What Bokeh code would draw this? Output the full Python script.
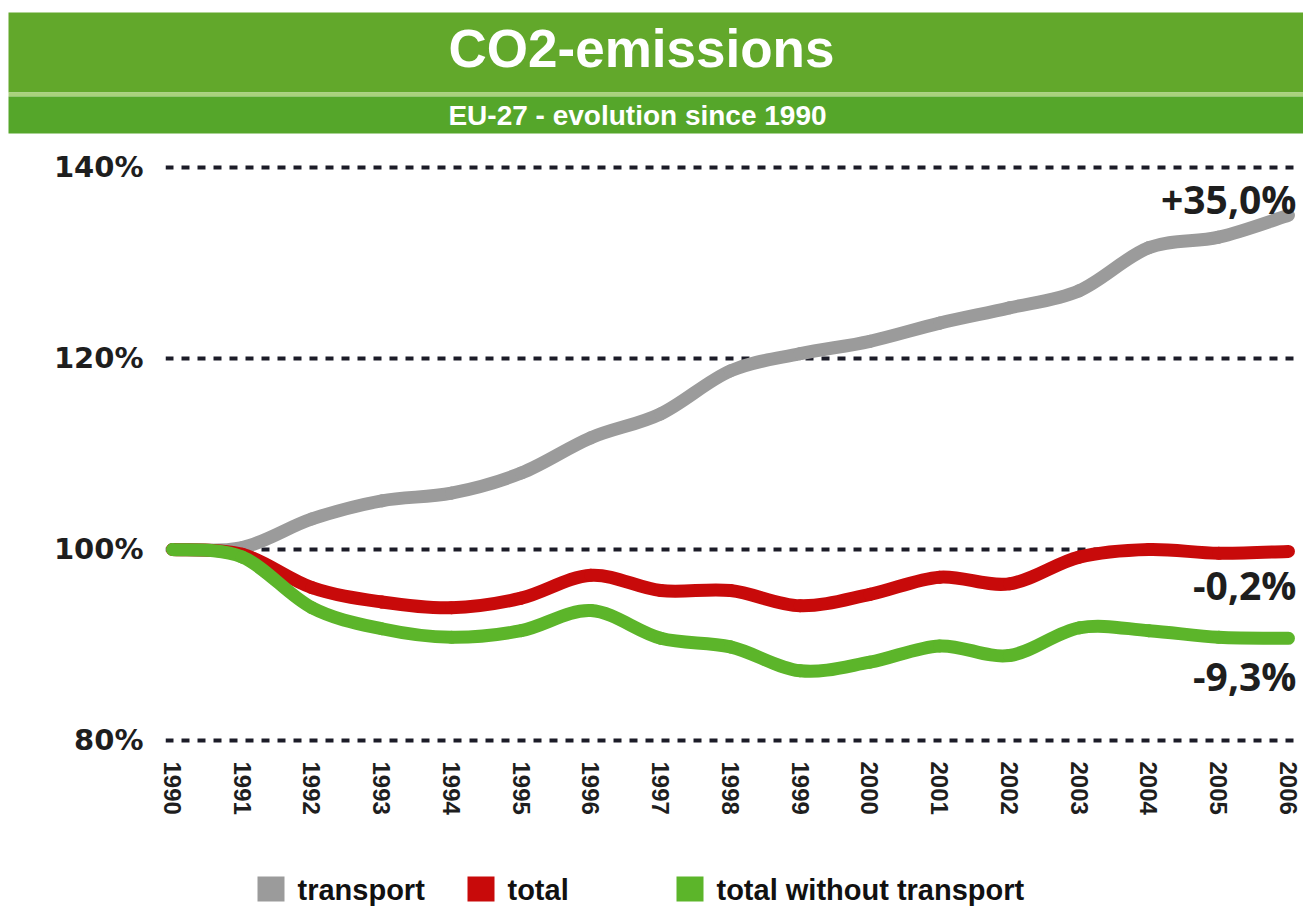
from bokeh.plotting import figure
from bokeh.models import Range1d, FixedTicker, PrintfTickFormatter, ColumnDataSource
from bokeh.layouts import column
from bokeh.embed import file_html
from bokeh.resources import INLINE
from bokeh.core.properties import value

# EU-27 CO2 emissions, index 1990 = 100 %
years = list(range(1990, 2007))
transport = [100.0, 100.2, 103.2, 105.1, 105.9, 108.0, 111.7, 114.2, 118.7,
             120.5, 121.8, 123.7, 125.3, 127.1, 131.6, 132.7, 135.0]
total = [100.0, 99.5, 96.0, 94.5, 93.9, 94.9, 97.3, 95.7, 95.7,
         94.1, 95.3, 97.1, 96.4, 99.2, 100.0, 99.6, 99.8]
total_without_transport = [100.0, 99.2, 93.9, 91.7, 90.8, 91.5, 93.6, 90.7, 89.8,
                           87.3, 88.2, 89.9, 88.9, 91.8, 91.5, 90.8, 90.7]

series_names = ["transport", "total", "total without transport"]
series_values = [transport, total, total_without_transport]
series_colors = ["#9b9b9b", "#c80a0a", "#5cb52a"]
y_ticks = [80, 100, 120, 140]

title_text = "CO2-emissions"
subtitle_text = "EU-27 - evolution since 1990"

W = 1303
BOLD_SANS = value("Liberation Sans")


def smooth_segments(xs, ys):
    """Cubic Bezier pieces (Catmull-Rom tangents) passing through every point."""
    n = len(xs)
    d = dict(x0=[], y0=[], x1=[], y1=[], cx0=[], cy0=[], cx1=[], cy1=[])
    for i in range(n - 1):
        ip, inn = max(i - 1, 0), min(i + 2, n - 1)
        d["x0"].append(xs[i]); d["y0"].append(ys[i])
        d["x1"].append(xs[i + 1]); d["y1"].append(ys[i + 1])
        d["cx0"].append(xs[i] + (xs[i + 1] - xs[ip]) / 6)
        d["cy0"].append(ys[i] + (ys[i + 1] - ys[ip]) / 6)
        d["cx1"].append(xs[i + 1] - (xs[inn] - xs[i]) / 6)
        d["cy1"].append(ys[i + 1] - (ys[inn] - ys[i]) / 6)
    return ColumnDataSource(d)


# ---------- header band ----------
head = figure(width=W, height=140, x_range=Range1d(0, W), y_range=Range1d(140, 0),
              output_backend="svg", toolbar_location=None, min_border=0,
              x_axis_location=None, y_axis_location=None, frame_align=False)
head.grid.visible = False
head.outline_line_color = None
head.quad(left=[8], right=[W], top=[12], bottom=[92], color="#62a82b", line_color=None)
head.quad(left=[8], right=[W], top=[92], bottom=[96], color="#a9d27c", line_color=None)
head.quad(left=[8], right=[W], top=[96], bottom=[133], color="#55a62a", line_color=None)
head.text(x=[641], y=[48], text=[title_text], text_font=BOLD_SANS, text_font_style="bold",
          text_font_size="53px", text_color="white", text_align="center",
          text_baseline="middle")
head.text(x=[637], y=[115], text=[subtitle_text], text_font=BOLD_SANS, text_font_style="bold",
          text_font_size="28px", text_color="white", text_align="center",
          text_baseline="middle")

# ---------- main chart ----------
p = figure(width=W, height=720,
           x_range=Range1d(1989.9, 2006.13), y_range=Range1d(79.16, 142.30),
           output_backend="svg", toolbar_location=None, frame_align=False,
           min_border_left=165, min_border_right=6, min_border_top=5, min_border_bottom=112)
p.outline_line_color = None
p.xgrid.visible = False
p.ygrid.grid_line_color = "#1c1c28"
p.ygrid.grid_line_width = 4
p.ygrid.grid_line_dash = "8 8"

p.yaxis.ticker = FixedTicker(ticks=y_ticks)
p.yaxis.formatter = PrintfTickFormatter(format="%d%%")
p.yaxis.axis_line_color = None
p.yaxis.major_tick_line_color = None
p.yaxis.minor_tick_line_color = None
p.yaxis.major_tick_out = 0
p.yaxis.major_label_standoff = 22
p.yaxis.major_label_text_font = "DejaVu Sans"
p.yaxis.major_label_text_font_style = "bold"
p.yaxis.major_label_text_font_size = "29px"
p.yaxis.major_label_text_color = "#1e1e1e"

p.xaxis.ticker = FixedTicker(ticks=years)
p.xaxis.major_label_orientation = "vertical"
p.xaxis.axis_line_color = None
p.xaxis.major_tick_line_color = None
p.xaxis.minor_tick_line_color = None
p.xaxis.major_tick_out = 0
p.xaxis.major_label_standoff = 13
p.xaxis.major_label_text_font = "Liberation Sans"
p.xaxis.major_label_text_font_style = "bold"
p.xaxis.major_label_text_font_size = "24px"
p.xaxis.major_label_text_color = "#1e1e1e"

for vals, color in zip(series_values, series_colors):
    p.bezier(x0="x0", y0="y0", x1="x1", y1="y1", cx0="cx0", cy0="cy0",
             cx1="cx1", cy1="cy1", source=smooth_segments(years, vals),
             line_width=13, line_color=color, line_cap="round")

# change since 1990 written next to the last point of each series
label_offsets = [-17, 33, 37]
for vals, dy in zip(series_values, label_offsets):
    change = vals[-1] - 100
    txt = f"{change:+.1f}%".replace(".", ",")
    p.text(x=[years[-1]], y=[vals[-1]], text=[txt], x_offset=8, y_offset=dy,
           text_font=value("Open Sans"), text_font_style="bold",
           text_font_size="39px", text_color="#1e1e1e",
           text_align="right", text_baseline="middle")

# ---------- legend row ----------
leg = figure(width=W, height=49, x_range=Range1d(0, W), y_range=Range1d(49, 0),
             output_backend="svg", toolbar_location=None, min_border=0,
             x_axis_location=None, y_axis_location=None, frame_align=False)
leg.grid.visible = False
leg.outline_line_color = None
key_left = [257, 467, 676]
for name, color, x0 in zip(series_names, series_colors, key_left):
    leg.quad(left=[x0], right=[x0 + 27], top=[16], bottom=[41], color=color, line_color=None)
    leg.text(x=[x0 + 40], y=[29], text=[name], text_font=BOLD_SANS, text_font_style="bold",
             text_font_size="29px", text_color="#111111", text_align="left",
             text_baseline="middle")

layout = column(head, p, leg, spacing=0)
open("out.html", "w").write(file_html(layout, INLINE))
